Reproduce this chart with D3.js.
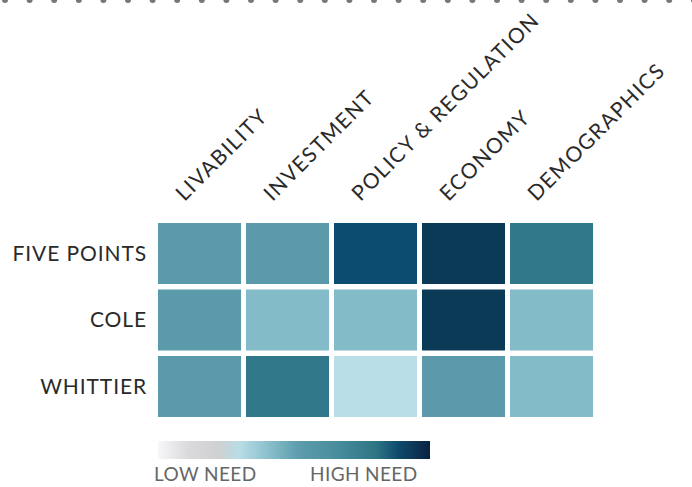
<!DOCTYPE html>
<html>
<head>
<meta charset="utf-8">
<script src="https://cdn.jsdelivr.net/npm/d3@7"></script>
<style>
  body { margin: 0; background: #fff; }
  text { font-family: Lato, "Open Sans", sans-serif; }
</style>
</head>
<body>
<div id="canvas"></div>
<script>
const categories = ["LIVABILITY", "INVESTMENT", "POLICY & REGULATION", "ECONOMY", "DEMOGRAPHICS"];
const places = ["FIVE POINTS", "COLE", "WHITTIER"];

// need level per place, 1 = lowest .. 6 = highest
const fivePoints = [3, 3, 5, 6, 4];
const cole = [3, 2, 2, 6, 2];
const whittier = [3, 4, 1, 3, 2];

const levels = [1, 2, 3, 4, 5, 6];
const levelColors = ["#b9dee7", "#83bcc8", "#5a9aaa", "#31788a", "#0c4c70", "#0a3a56"];

const legendLabels = ["LOW NEED", "HIGH NEED"];

const width = 692;
const height = 487;

const svg = d3
  .select("#canvas")
  .append("svg")
  .attr("width", width)
  .attr("height", height)
  .attr("viewBox", [0, 0, width, height]);

// dotted rule along the top
svg
  .append("g")
  .selectAll("circle")
  .data(d3.range(0, width + 10, 24.6))
  .enter()
  .append("circle")
  .attr("cx", (d) => d + 5)
  .attr("cy", 0)
  .attr("r", 3)
  .attr("fill", "#777");

const xScale = d3.scaleBand(categories, [158, 593]).paddingInner(5 / 88);
const yScale = d3.scaleBand(places, [223, 417]).paddingInner(5.5 / 66.5);
const color = d3.scaleOrdinal(levels, levelColors);

const rows = [fivePoints, cole, whittier];
const cells = places.flatMap((p, i) =>
  categories.map((c, j) => ({ place: p, category: c, value: rows[i][j] }))
);

svg
  .append("g")
  .selectAll("rect")
  .data(cells)
  .enter()
  .append("rect")
  .attr("x", (d) => xScale(d.category))
  .attr("y", (d) => yScale(d.place))
  .attr("width", xScale.bandwidth())
  .attr("height", yScale.bandwidth())
  .attr("fill", (d) => color(d.value));

// row labels
svg
  .append("g")
  .selectAll("text")
  .data(places)
  .enter()
  .append("text")
  .attr("x", 147)
  .attr("y", (d) => yScale(d) + yScale.bandwidth() / 2)
  .attr("dy", "0.35em")
  .attr("text-anchor", "end")
  .attr("font-size", 21)
  .attr("letter-spacing", 0.9)
  .attr("fill", "#2a2a2a")
  .text((d) => d);

// column labels, rotated
svg
  .append("g")
  .selectAll("text")
  .data(categories)
  .enter()
  .append("text")
  .attr(
    "transform",
    (d) => `translate(${xScale(d) + xScale.bandwidth() / 2 - 15},202) rotate(-45)`
  )
  .attr("font-size", 21)
  .attr("letter-spacing", 1.4)
  .attr("fill", "#2a2a2a")
  .text((d) => d);

// legend
const stops = [
  [0, "#f7f7f9"],
  [0.11, "#dadadc"],
  [0.22, "#d0d0d2"],
  [0.3, "#b8dde6"],
  [0.4, "#8cc1cd"],
  [0.52, "#5c9cac"],
  [0.65, "#4a8e9e"],
  [0.8, "#2e7585"],
  [0.88, "#0f4c6e"],
  [1, "#0a2242"],
];

const grad = svg
  .append("defs")
  .append("linearGradient")
  .attr("id", "need");
grad
  .selectAll("stop")
  .data(stops)
  .enter()
  .append("stop")
  .attr("offset", (d) => d[0])
  .attr("stop-color", (d) => d[1]);

const legendScale = d3.scalePoint(legendLabels, [154, 310]);

svg
  .append("rect")
  .attr("x", 158)
  .attr("y", 441)
  .attr("width", 272)
  .attr("height", 18)
  .attr("fill", "url(#need)");

svg
  .append("g")
  .selectAll("text")
  .data(legendLabels)
  .enter()
  .append("text")
  .attr("x", (d) => legendScale(d))
  .attr("y", 481)
  .attr("font-size", 19)
  .attr("letter-spacing", 0.4)
  .attr("fill", "#666")
  .text((d) => d);
</script>
</body>
</html>
